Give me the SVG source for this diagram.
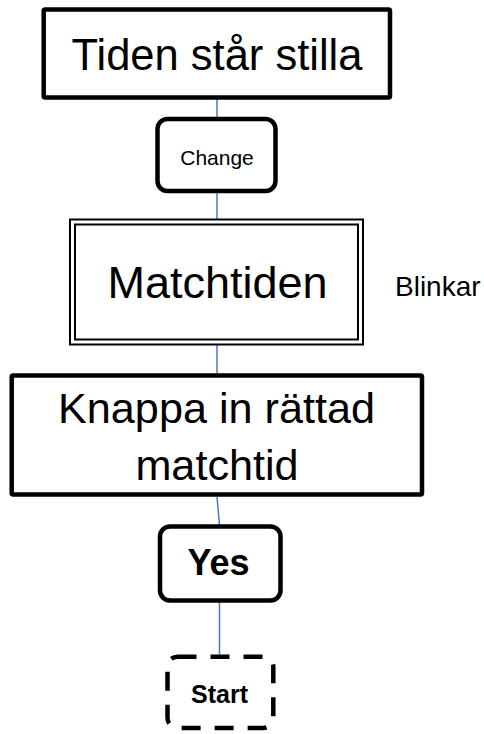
<svg xmlns="http://www.w3.org/2000/svg" width="484" height="734" viewBox="0 0 484 734">
<style>
.box{fill:#fff;stroke:#000;stroke-width:4.5}
.thin{fill:none;stroke:#000;stroke-width:2}
.conn{fill:none;stroke:#4a7ebb;stroke-width:1.5}
.t{font-family:"Liberation Sans",Arial,sans-serif;fill:#000;text-anchor:middle}
.b{font-weight:bold}
</style>
<rect width="484" height="734" fill="#fff"/>
<g id="connectors">
<line class="conn" x1="217" y1="99" x2="217" y2="118"/>
<line class="conn" x1="217" y1="193" x2="217" y2="220"/>
<line class="conn" x1="217" y1="345" x2="217" y2="373"/>
<line class="conn" x1="217" y1="497" x2="219.5" y2="525"/>
<line class="conn" x1="219.5" y1="602" x2="219.5" y2="655"/>
</g>
<g id="n1">
<rect class="box" x="43.7" y="9.5" width="346.3" height="88" rx="1.5"/>
<text class="t" x="217" y="70" font-size="43.5">Tiden står stilla</text>
</g>
<g id="n2">
<rect class="box" x="157.5" y="119" width="118" height="72" rx="10"/>
<text class="t" x="217" y="164.5" font-size="21">Change</text>
</g>
<g id="n3">
<rect class="thin" x="70" y="219.5" width="293" height="125"/>
<rect class="thin" x="75" y="224.5" width="283" height="115"/>
<text class="t" x="217.5" y="298" font-size="45">Matchtiden</text>
</g>
<text id="blinkar" class="t" x="395" y="296" font-size="28" style="text-anchor:start">Blinkar</text>
<g id="n4">
<rect class="box" x="11.7" y="375.5" width="410.3" height="119" rx="1.5"/>
<text class="t" x="216.5" y="423" font-size="43.2">Knappa in rättad</text>
<text class="t" x="217" y="480" font-size="43.2">matchtid</text>
</g>
<g id="n5">
<rect class="box" x="160" y="526.5" width="120.5" height="74" rx="10"/>
<text class="t b" x="218.5" y="575" font-size="36">Yes</text>
</g>
<g id="n6">
<rect class="box" x="167.5" y="656.7" width="105.8" height="71.3" rx="10" stroke-dasharray="19 14" stroke-width="5"/>
<text class="t b" x="219.5" y="703" font-size="25">Start</text>
</g>
</svg>
